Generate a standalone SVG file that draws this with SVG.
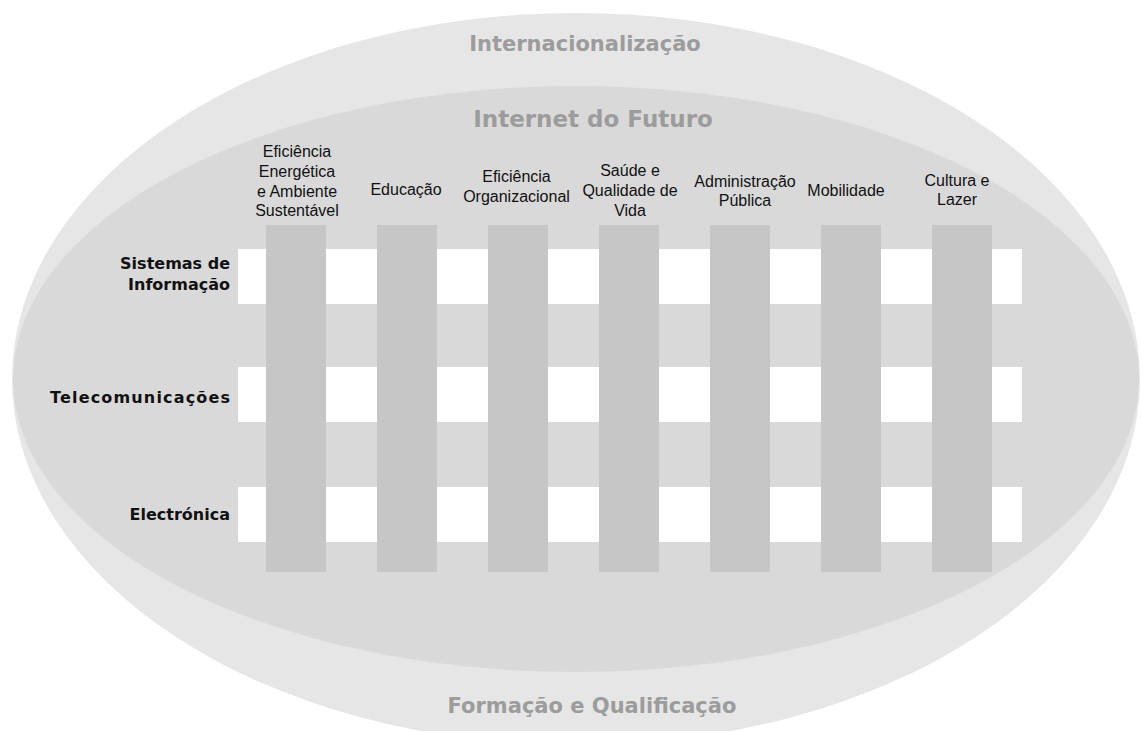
<svg xmlns="http://www.w3.org/2000/svg" width="1143" height="731" viewBox="0 0 1143 731">
<style>
.title{font-family:"DejaVu Sans",Verdana,sans-serif;font-weight:bold;fill:#9c9c9c;text-anchor:middle}
.col{font-family:"Liberation Sans",Arial,sans-serif;font-size:16px;fill:#111;text-anchor:middle}
.row{font-family:"DejaVu Sans",Verdana,sans-serif;font-weight:bold;font-size:16px;fill:#111;text-anchor:end}
.bar{fill:#c6c6c6}
.cell{fill:#ffffff}
</style>
<rect width="1143" height="731" fill="#ffffff"/>
<g id="outer-ring">
<ellipse cx="576" cy="379" rx="564" ry="366" fill="#e6e6e6"/>
<text class="title" x="585" y="51" font-size="21">Internacionalização</text>
<text class="title" x="592" y="713" font-size="21">Formação e Qualificação</text>
</g>
<g id="inner-ring">
<ellipse cx="576" cy="379" rx="563" ry="293" fill="#d9d9d9"/>
<text class="title" x="593" y="127" font-size="23">Internet do Futuro</text>
</g>
<g id="rows">
<rect class="cell" x="238" y="249" width="784" height="55"/>
<rect class="cell" x="238" y="367" width="784" height="55"/>
<rect class="cell" x="238" y="487" width="784" height="55"/>
</g>
<g id="columns">
<rect class="bar" x="266" y="225" width="60" height="347"/>
<rect class="bar" x="377" y="225" width="60" height="347"/>
<rect class="bar" x="488" y="225" width="60" height="347"/>
<rect class="bar" x="599" y="225" width="60" height="347"/>
<rect class="bar" x="710" y="225" width="60" height="347"/>
<rect class="bar" x="821" y="225" width="60" height="347"/>
<rect class="bar" x="932" y="225" width="60" height="347"/>
</g>
<g id="connectors"></g>
<g id="col-eficiencia-energetica">
<text class="col" x="297" y="157">Eficiência</text>
<text class="col" x="297" y="177">Energética</text>
<text class="col" x="297" y="196.5">e Ambiente</text>
<text class="col" x="297" y="216">Sustentável</text>
</g>
<g id="col-educacao"><text class="col" x="406" y="195">Educação</text></g>
<g id="col-eficiencia-organizacional">
<text class="col" x="516.5" y="181.5">Eficiência</text>
<text class="col" x="516.5" y="201.5">Organizacional</text>
</g>
<g id="col-saude">
<text class="col" x="630" y="176">Saúde e</text>
<text class="col" x="630" y="196">Qualidade de</text>
<text class="col" x="630" y="215.5">Vida</text>
</g>
<g id="col-administracao">
<text class="col" x="745" y="186.5">Administração</text>
<text class="col" x="745" y="206">Pública</text>
</g>
<g id="col-mobilidade"><text class="col" x="846" y="195.5">Mobilidade</text></g>
<g id="col-cultura">
<text class="col" x="957" y="185.5">Cultura e</text>
<text class="col" x="957" y="205">Lazer</text>
</g>
<g id="row-sistemas">
<text class="row" x="230" y="268.5">Sistemas de</text>
<text class="row" x="230" y="290">Informação</text>
</g>
<g id="row-telecom"><text class="row" x="230" y="402.5" textLength="180" lengthAdjust="spacing">Telecomunicações</text></g>
<g id="row-electronica"><text class="row" x="230" y="520">Electrónica</text></g>
</svg>
